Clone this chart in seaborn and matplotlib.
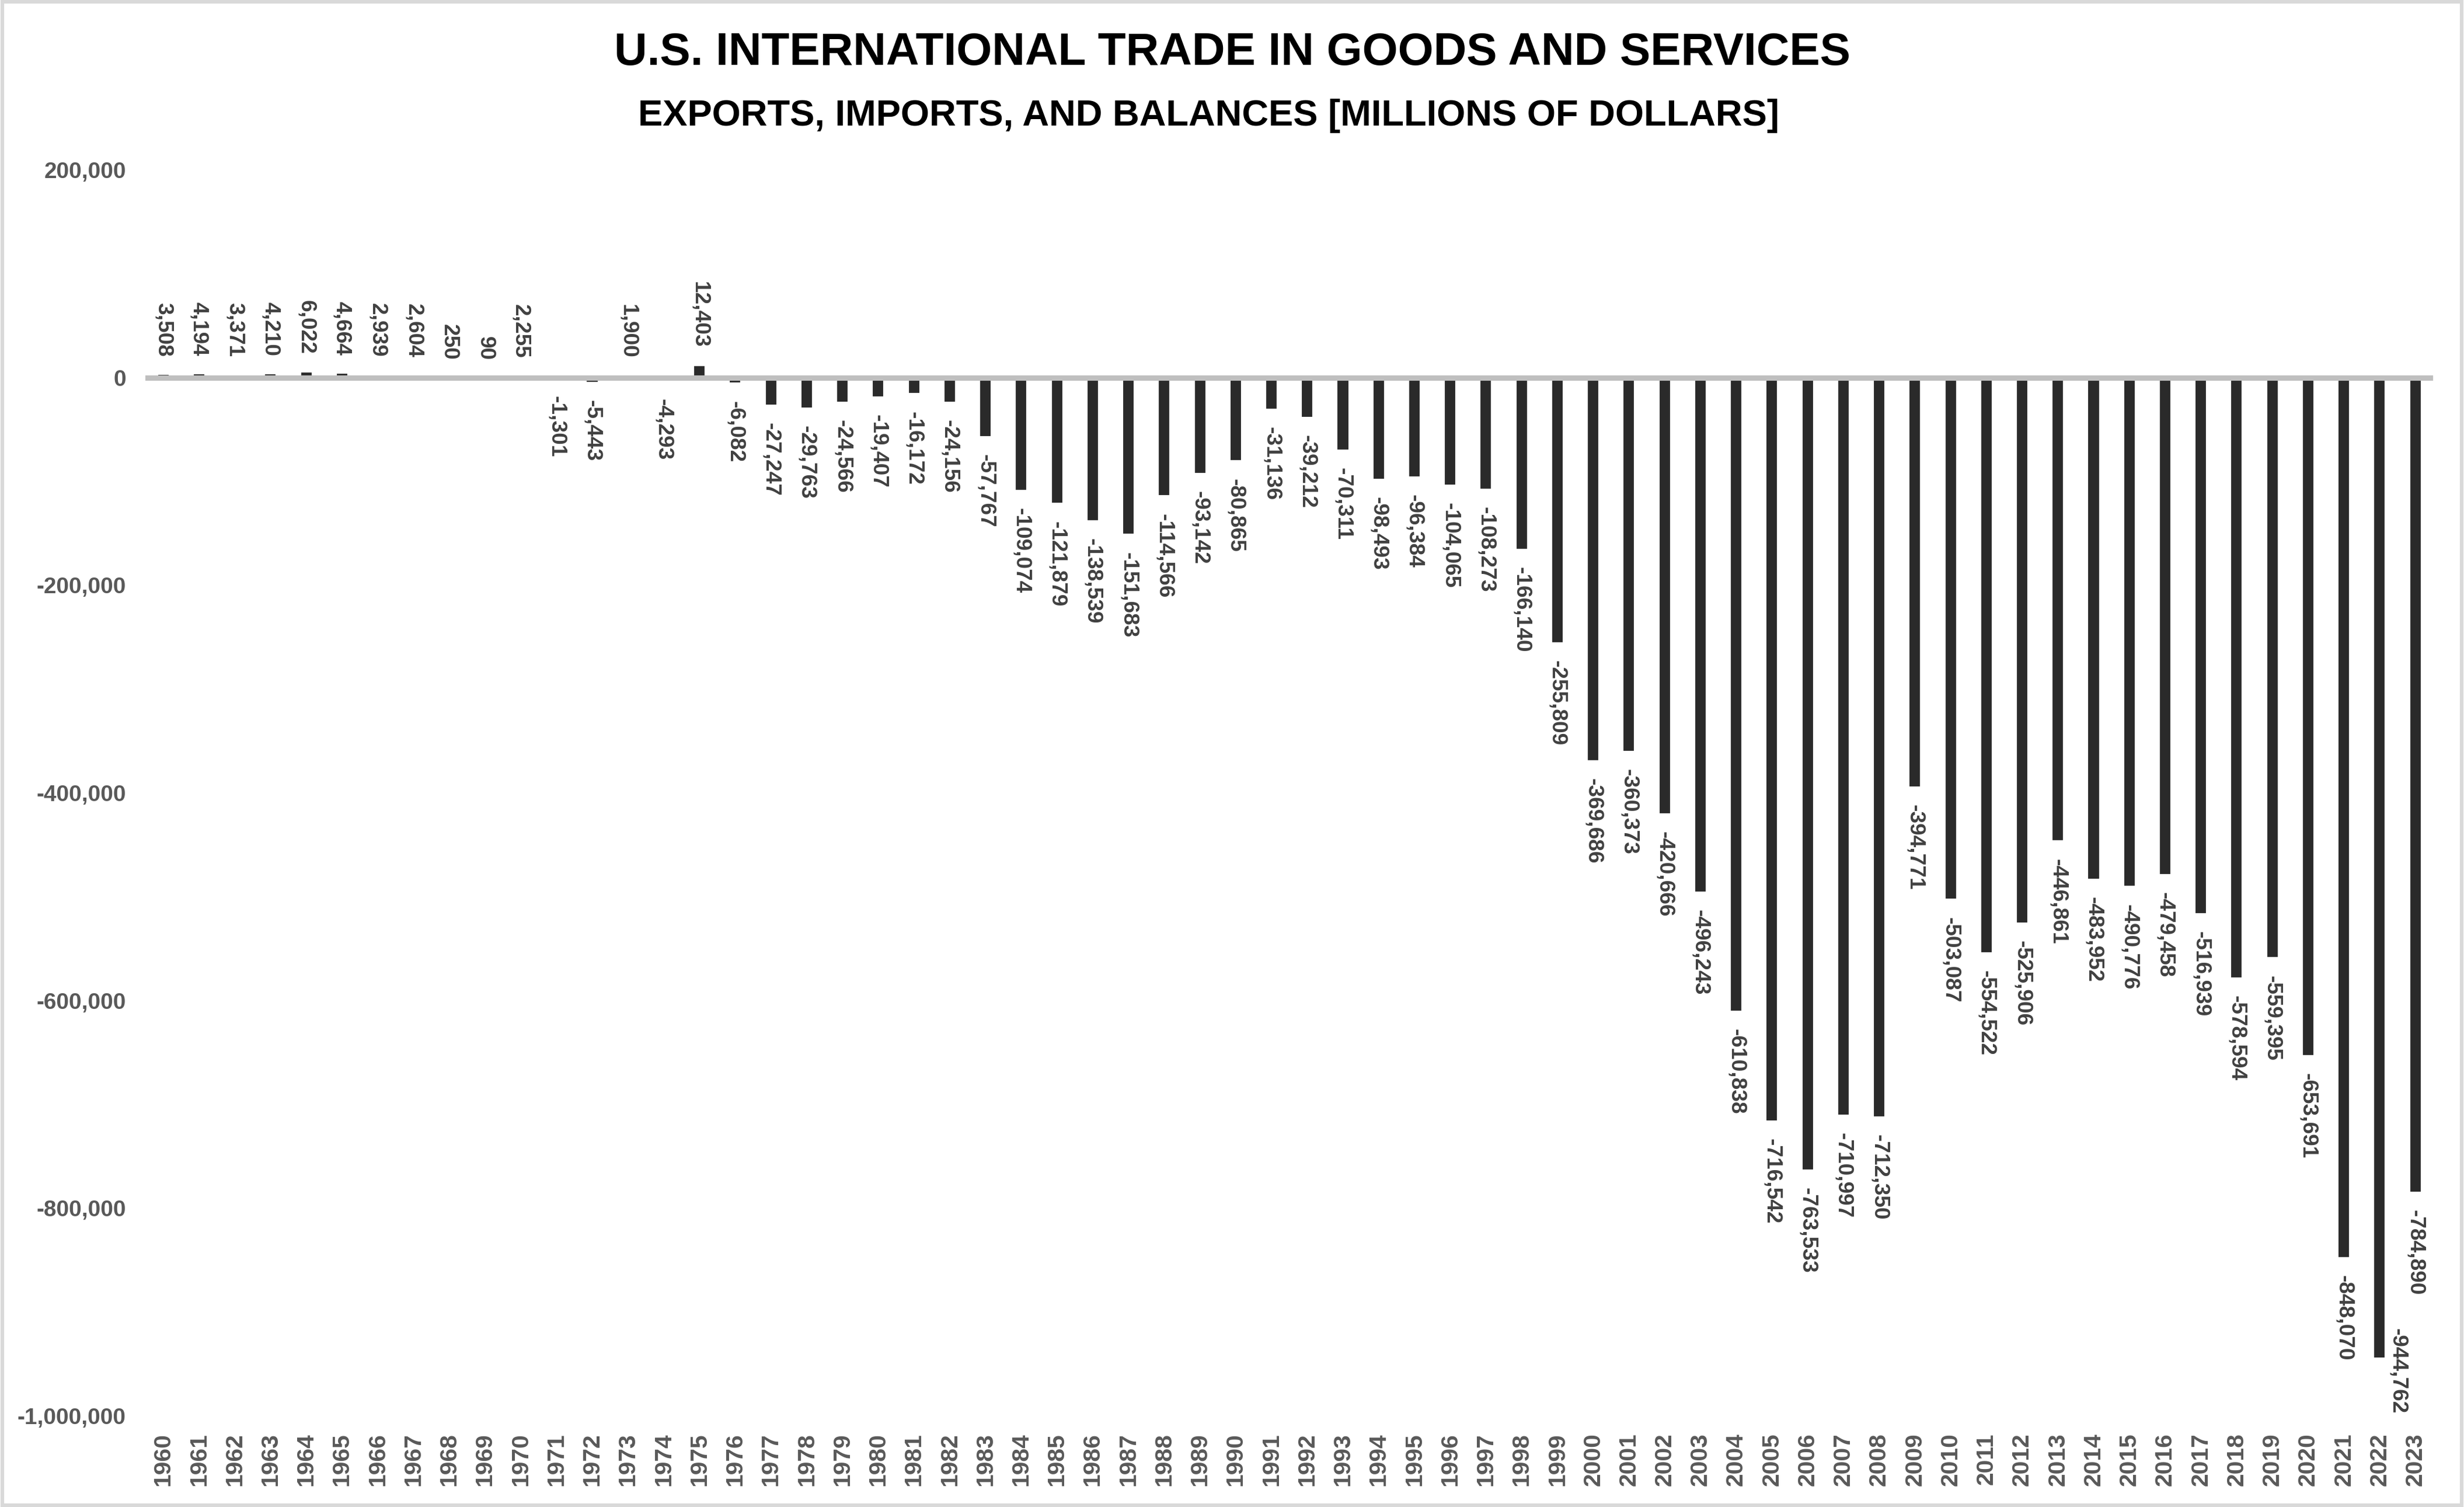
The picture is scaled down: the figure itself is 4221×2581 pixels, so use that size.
import matplotlib
matplotlib.use("Agg")
import matplotlib.pyplot as plt
import seaborn as sns
import pandas as pd
from matplotlib.patches import Rectangle

years = list(range(1960, 2024))
balance = [
    3508, 4194, 3371, 4210, 6022, 4664, 2939, 2604, 250, 90,
    2255, -1301, -5443, 1900, -4293, 12403, -6082, -27247, -29763, -24566,
    -19407, -16172, -24156, -57767, -109074, -121879, -138539, -151683, -114566, -93142,
    -80865, -31136, -39212, -70311, -98493, -96384, -104065, -108273, -166140, -255809,
    -369686, -360373, -420666, -496243, -610838, -716542, -763533, -710997, -712350, -394771,
    -503087, -554522, -525906, -446861, -483952, -490776, -479458, -516939, -578594, -559395,
    -653691, -848070, -944762, -784890,
]
y_ticks = [200000, 0, -200000, -400000, -600000, -800000, -1000000]

title = "U.S. INTERNATIONAL TRADE IN GOODS AND SERVICES"
subtitle = "EXPORTS, IMPORTS, AND BALANCES [MILLIONS OF DOLLARS]"

df = pd.DataFrame({"year": [str(y) for y in years], "balance": balance})

sns.set_style("white")
plt.rcParams['font.family'] = ['Liberation Sans', 'DejaVu Sans']

fig = plt.figure(figsize=(4221 / 300, 2581 / 300), dpi=300)
ax = fig.add_axes([0.0590, 0.0604, 0.9285, 0.8269])

sns.barplot(data=df, x="year", y="balance", color="#2a2a2a", saturation=1,
            width=0.36, ax=ax, zorder=2)
ax.axhline(0, color="#bfbfbf", lw=2.2, zorder=3)

ax.set_ylim(-1000000, 200000)
ax.set_xlim(-0.5, len(years) - 0.5)
ax.set_yticks(y_ticks)
ax.set_yticklabels([f"{v:,}" for v in y_ticks], fontsize=9.3, fontweight="bold",
                   color="#595959", family=['Liberation Sans Narrow', 'Liberation Sans'])
ax.tick_params(axis="y", length=0, pad=8)
ax.tick_params(axis="x", length=0, pad=7)
for lab in ax.get_xticklabels():
    lab.set_rotation(90)
    lab.set_fontsize(9.8)
    lab.set_fontweight("bold")
    lab.set_color("#595959")
    lab.set_va("top")
ax.set_xlabel("")
ax.set_ylabel("")
for s in ax.spines.values():
    s.set_visible(False)

texts = ax.bar_label(ax.containers[0], labels=[f"{v:,}" for v in balance], padding=7,
                     rotation=270, fontsize=8.9, color="#404040")
for t in texts:
    t.set_fontweight("bold")

# labels that would run past the bottom of the plot go beside their bar
fig.canvas.draw()
bottom_px = ax.get_window_extent().y0
for i, t in enumerate(texts):
    if t.get_window_extent().y0 < bottom_px:
        t.xy = (i + 0.5, -1000000)
        t.xyann = (0, 1)
        t.set_va("bottom")

fig.text(0.5, 0.9648, title, ha="center", va="center", fontsize=18.8,
         fontweight="bold", color="#000000")
fig.text(0.4905, 0.9232, subtitle, ha="center", va="center", fontsize=15.2,
         fontweight="bold", color="#000000")

fig.patches.append(Rectangle((0.001, 0.001), 0.998, 0.998, transform=fig.transFigure,
                             fill=False, edgecolor="#d9d9d9", lw=1.5))

fig.savefig("out.png", dpi=300, facecolor="white")
